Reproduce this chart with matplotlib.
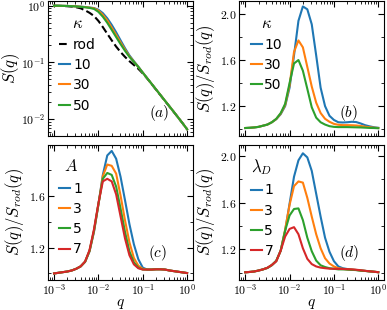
import numpy as np
import matplotlib
matplotlib.use("Agg")
import matplotlib.pyplot as plt
from matplotlib import ticker

plt.rcParams['mathtext.fontset'] = 'cm'
plt.rcParams['font.family'] = ['DejaVu Sans']

# q grid (log10 exponents)
q_exp = [-3.0, -2.9, -2.8, -2.7, -2.6, -2.5, -2.4, -2.3, -2.2, -2.1, -2.0,
         -1.9, -1.8, -1.7, -1.6, -1.5, -1.4, -1.3, -1.2, -1.1, -1.0,
         -0.9, -0.8, -0.7, -0.6, -0.5, -0.4, -0.3, -0.2, -0.1, 0.0]

# (a) S(q)
tail_a = [0.0525, 0.0418, 0.0333, 0.0265, 0.0211, 0.0168, 0.0134, 0.0106, 0.0084, 0.0066]
rod_a = [1.00, 0.995, 0.99, 0.98, 0.965, 0.94, 0.90, 0.83, 0.75, 0.66, 0.54,
         0.42, 0.32, 0.245, 0.19, 0.152, 0.125, 0.105, 0.090, 0.077, 0.064,
         0.052, 0.0415, 0.033, 0.0263, 0.021, 0.0167, 0.0133, 0.0106, 0.0084, 0.0066]
k10_a = [1.00, 0.998, 0.995, 0.99, 0.985, 0.975, 0.965, 0.95, 0.93, 0.91, 0.85,
         0.74, 0.60, 0.46, 0.34, 0.245, 0.178, 0.133, 0.105, 0.084, 0.066] + tail_a
k30_a = [1.00, 0.998, 0.995, 0.99, 0.984, 0.973, 0.96, 0.945, 0.925, 0.90, 0.82,
         0.69, 0.55, 0.41, 0.305, 0.225, 0.168, 0.128, 0.103, 0.083, 0.066] + tail_a
k50_a = [1.00, 0.998, 0.995, 0.99, 0.983, 0.97, 0.955, 0.94, 0.915, 0.88, 0.78,
         0.64, 0.50, 0.375, 0.28, 0.21, 0.16, 0.125, 0.102, 0.083, 0.066] + tail_a
kappa_labels = ['10', '30', '50']

# (b) S/S_rod vs kappa
k10_b = [1.01, 1.012, 1.015, 1.02, 1.03, 1.04, 1.06, 1.087, 1.13, 1.20, 1.36,
         1.64, 1.94, 2.065, 2.04, 1.91, 1.64, 1.36, 1.20, 1.116, 1.08,
         1.06, 1.058, 1.06, 1.064, 1.062, 1.05, 1.035, 1.025, 1.017, 1.012]
k30_b = [1.01, 1.012, 1.015, 1.02, 1.03, 1.04, 1.06, 1.088, 1.135, 1.21, 1.38,
         1.67, 1.77, 1.71, 1.54, 1.37, 1.23, 1.14, 1.09, 1.064, 1.046,
         1.038, 1.035, 1.035, 1.034, 1.032, 1.028, 1.022, 1.017, 1.013, 1.01]
k50_b = [1.01, 1.012, 1.015, 1.02, 1.03, 1.04, 1.06, 1.09, 1.14, 1.22, 1.40,
         1.57, 1.60, 1.507, 1.35, 1.19, 1.10, 1.06, 1.04, 1.026, 1.02,
         1.018, 1.018, 1.018, 1.017, 1.016, 1.015, 1.013, 1.011, 1.01, 1.008]

# (c) S/S_rod vs A
a1_c = [1.0, 1.005, 1.01, 1.015, 1.023, 1.036, 1.054, 1.09, 1.17, 1.32, 1.53,
        1.76, 1.91, 1.945, 1.885, 1.745, 1.565, 1.38, 1.225, 1.11, 1.045,
        1.03, 1.03, 1.032, 1.032, 1.03, 1.023, 1.018, 1.013, 1.008, 1.003]
a3_c = [1.0, 1.005, 1.01, 1.015, 1.023, 1.036, 1.054, 1.09, 1.172, 1.325, 1.53,
        1.75, 1.84, 1.83, 1.77, 1.60, 1.41, 1.24, 1.12, 1.06, 1.035,
        1.03, 1.03, 1.032, 1.032, 1.03, 1.023, 1.018, 1.013, 1.008, 1.003]
a5_c = [1.0, 1.005, 1.01, 1.015, 1.023, 1.036, 1.055, 1.09, 1.175, 1.33, 1.535,
        1.73, 1.775, 1.76, 1.67, 1.50, 1.32, 1.17, 1.085, 1.045, 1.03,
        1.03, 1.03, 1.032, 1.032, 1.03, 1.023, 1.018, 1.013, 1.008, 1.003]
a7_c = [1.0, 1.005, 1.01, 1.015, 1.023, 1.036, 1.055, 1.092, 1.18, 1.34, 1.54,
        1.71, 1.73, 1.71, 1.61, 1.44, 1.27, 1.14, 1.07, 1.04, 1.03,
        1.03, 1.03, 1.032, 1.032, 1.03, 1.023, 1.018, 1.013, 1.008, 1.003]
A_labels = ['1', '3', '5', '7']

# (d) S/S_rod vs lambda_D
l1_d = [1.005, 1.008, 1.012, 1.02, 1.03, 1.042, 1.065, 1.10, 1.19, 1.36, 1.59,
        1.82, 1.96, 2.02, 1.985, 1.87, 1.675, 1.48, 1.30, 1.18, 1.10,
        1.055, 1.04, 1.033, 1.028, 1.025, 1.02, 1.017, 1.013, 1.01, 1.006]
l3_d = [1.005, 1.008, 1.012, 1.02, 1.03, 1.042, 1.066, 1.10, 1.19, 1.37, 1.58,
        1.74, 1.78, 1.77, 1.64, 1.48, 1.33, 1.21, 1.125, 1.08, 1.055,
        1.04, 1.035, 1.03, 1.028, 1.025, 1.02, 1.017, 1.013, 1.01, 1.006]
l5_d = [1.005, 1.008, 1.012, 1.02, 1.03, 1.043, 1.067, 1.105, 1.19, 1.36, 1.49,
        1.545, 1.55, 1.45, 1.30, 1.185, 1.105, 1.065, 1.05, 1.04, 1.035,
        1.03, 1.03, 1.028, 1.026, 1.024, 1.02, 1.017, 1.013, 1.01, 1.006]
l7_d = [1.005, 1.008, 1.012, 1.02, 1.03, 1.044, 1.068, 1.10, 1.19, 1.31, 1.375,
        1.39, 1.33, 1.21, 1.12, 1.075, 1.055, 1.045, 1.04, 1.036, 1.035,
        1.034, 1.033, 1.032, 1.03, 1.027, 1.023, 1.018, 1.014, 1.01, 1.006]
lam_labels = ['1', '3', '5', '7']

q = 10.0 ** np.array(q_exp)
colors = ['#1f77b4', '#ff7f0e', '#2ca02c', '#d62728']

fig = plt.figure(figsize=(3.87, 3.10), dpi=100)
W, H = 0.374, 0.435
axa = fig.add_axes([0.124, 0.561, W, H])
axb = fig.add_axes([0.618, 0.561, W, H])
axc = fig.add_axes([0.124, 0.097, W, H])
axd = fig.add_axes([0.618, 0.097, W, H])

logfmt = ticker.FuncFormatter(lambda v, p: r'$10^{%d}$' % int(round(np.log10(v))))
linfmt = ticker.FuncFormatter(lambda v, p: r'$%.1f$' % v)


def style(ax, bottom):
    ax.set_xscale('log')
    ax.set_xlim(7.3e-4, 1.34)
    ax.xaxis.set_major_locator(ticker.LogLocator(base=10, numticks=10))
    ax.xaxis.set_minor_locator(ticker.LogLocator(base=10, subs=np.arange(2, 10), numticks=10))
    ax.xaxis.set_minor_formatter(ticker.NullFormatter())
    if bottom:
        ax.xaxis.set_major_formatter(logfmt)
        ax.set_xlabel(r'$q$', fontsize=11, labelpad=-1)
    else:
        ax.xaxis.set_major_formatter(ticker.NullFormatter())
    ax.tick_params(which='both', direction='in', top=True, right=True, labelsize=8.5, pad=2)
    ax.tick_params(which='major', length=4, width=0.8)
    ax.tick_params(which='minor', length=2, width=0.6)


def leg(ax, title):
    ax.legend(title=title, loc='upper left', bbox_to_anchor=(0.04, 0.95),
              borderaxespad=0, frameon=False, fontsize=10, title_fontsize=12,
              handlelength=0.8, handletextpad=0.2, labelspacing=0.45)


# (a)
axa.plot(q, rod_a, color='k', ls='--', lw=1.5, label='rod')
for s, c, lab in zip([k10_a, k30_a, k50_a], colors, kappa_labels):
    axa.plot(q, s, color=c, lw=1.5, label=lab)
axa.set_yscale('log')
axa.set_ylim(5e-3, 1.2)
style(axa, False)
axa.yaxis.set_major_formatter(logfmt)
axa.yaxis.set_minor_locator(ticker.LogLocator(base=10, subs=np.arange(2, 10), numticks=10))
axa.yaxis.set_minor_formatter(ticker.NullFormatter())
axa.set_ylabel(r'$S(q)$', fontsize=12, labelpad=-1)
leg(axa, r'$\kappa$')
axa.text(0.77, 0.17, r'$(a)$', transform=axa.transAxes, fontsize=11, ha='center', va='center')

panels = [
    (axb, [k10_b, k30_b, k50_b], kappa_labels, r'$\kappa$', (0.94, 2.11), r'$(b)$', 0.17),
    (axc, [a1_c, a3_c, a5_c, a7_c], A_labels, r'$A$', (0.95, 1.99), r'$(c)$', 0.20),
    (axd, [l1_d, l3_d, l5_d, l7_d], lam_labels, r'$\lambda_D$', (0.94, 2.09), r'$(d)$', 0.20),
]
for ax, series, labels, title, ylim, tag, ty in panels:
    for s, c, lab in zip(series, colors, labels):
        ax.plot(q, s, color=c, lw=1.5, label=lab)
    ax.set_ylim(*ylim)
    style(ax, ax in (axc, axd))
    ax.yaxis.set_major_locator(ticker.MultipleLocator(0.4))
    ax.yaxis.set_minor_locator(ticker.MultipleLocator(0.2))
    ax.yaxis.set_major_formatter(linfmt)
    ax.set_ylabel(r'$S(q)/S_{rod}(q)$', fontsize=12, labelpad=2)
    leg(ax, title)
    ax.text(0.757, ty, tag, transform=ax.transAxes, fontsize=11, ha='center', va='center')

fig.savefig('out.png', dpi=100)
